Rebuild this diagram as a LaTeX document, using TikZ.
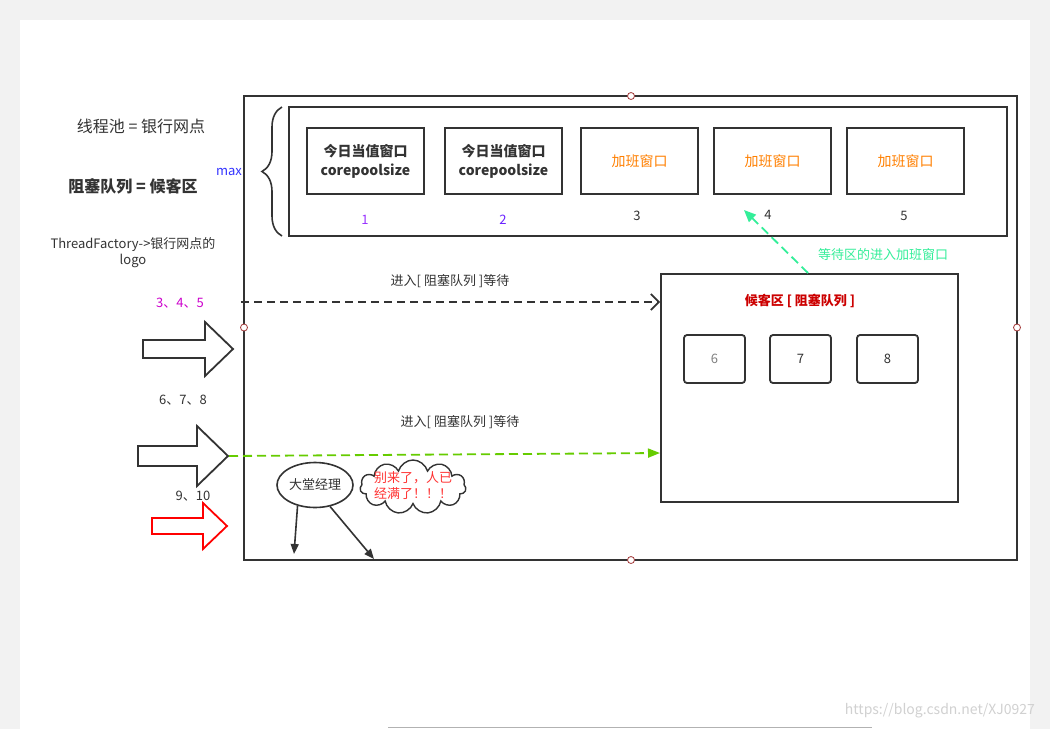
\documentclass[tikz,border=0pt]{standalone}
\usepackage{fontspec}
\setmainfont{Noto Sans CJK SC}
\usetikzlibrary{arrows.meta,shapes.geometric,shapes.symbols,decorations.pathreplacing}
\definecolor{ink}{HTML}{333333}
\definecolor{orng}{HTML}{FF8000}
\definecolor{purp}{HTML}{9933FF}
\definecolor{mag}{HTML}{CC00CC}
\definecolor{lime}{HTML}{66CC00}
\definecolor{mint}{HTML}{33EE99}
\definecolor{redt}{HTML}{CC0000}
\definecolor{handle}{HTML}{A33A3A}
\tikzset{
  frame/.style={draw=ink,line width=1.8pt},
  winbox/.style={draw=ink,line width=1.8pt,minimum width=117pt,minimum height=66pt,inner sep=0pt,align=center},
  qbox/.style={draw=ink,line width=1.8pt,rounded corners=3pt,minimum width=61pt,minimum height=48pt,inner sep=0pt,font=\fontsize{13}{15}\selectfont},
  lbl/.style={text=ink,font=\fontsize{13}{16}\selectfont,inner sep=0pt,align=center},
  hdl/.style={circle,draw=handle,fill=white,line width=0.8pt,minimum size=7pt,inner sep=0pt},
  blockarrow/.style={line width=1.8pt,fill=white,line join=miter},
}
\begin{document}
\begin{tikzpicture}[x=1pt,y=-1pt]
\useasboundingbox (0,0) rectangle (1050,729);
\fill[black!5] (0,0) rectangle (1050,729);
\fill[white] (20,20) rectangle (1030,729);
\draw[black!30,line width=0.8pt] (388,727.5) -- (872,727.5);

% outer frame
\node[frame,minimum width=773pt,minimum height=464pt,inner sep=0pt] (pool) at (630.5,328) {};
% inner window frame
\node[frame,minimum width=718pt,minimum height=129pt,inner sep=0pt] (wins) at (648,171.5) {};

% windows
\node[winbox,font=\bfseries\fontsize{14}{19}\selectfont,text=ink] (w1) at (365.5,161) {今日当值窗口\\corepoolsize};
\node[winbox,font=\bfseries\fontsize{14}{19}\selectfont,text=ink] (w2) at (503.5,161) {今日当值窗口\\corepoolsize};
\node[winbox,font=\fontsize{14}{17}\selectfont,text=orng] (w3) at (639.5,161) {加班窗口};
\node[winbox,font=\fontsize{14}{17}\selectfont,text=orng] (w4) at (772.5,161) {加班窗口};
\node[winbox,font=\fontsize{14}{17}\selectfont,text=orng] (w5) at (905.5,161) {加班窗口};
\node[lbl,text=purp] (n1) at (365,220) {1};
\node[lbl,text=purp!70!blue] (n2) at (503,220) {2};
\node[lbl] (n3) at (637,216) {3};
\node[lbl] (n4) at (768,215) {4};
\node[lbl] (n5) at (904,216) {5};

% brace and max
\draw[ink,line width=1.6pt,decorate,decoration={brace,amplitude=20pt}] (282,236) -- (282,107);
\node[lbl,text=blue!80!white] (max) at (229,172) {max};

% left texts
\node[lbl,font=\fontsize{16}{19}\selectfont] (t1) at (141,126) {线程池 = 银行网点};
\node[lbl,font=\bfseries\fontsize{16}{19}\selectfont] (t2) at (133,186) {阻塞队列 = 候客区};
\node[lbl,font=\fontsize{13}{16}\selectfont] (t3) at (133,253) {ThreadFactory->银行网点的\\logo};

% waiting area
\node[frame,minimum width=297pt,minimum height=228pt,inner sep=0pt] (wait) at (809.5,388) {};
\node[lbl,text=redt,font=\bfseries\fontsize{13}{16}\selectfont] (wt) at (800,301) {候客区 [ 阻塞队列 ]};
\node[qbox,text=gray] (q6) at (714.5,359) {6};
\node[qbox,text=ink] (q7) at (800.5,359) {7};
\node[qbox,text=ink] (q8) at (887.5,359) {8};

% handles
\node[hdl] (h1) at (631,96) {};
\node[hdl] (h2) at (244,327.5) {};
\node[hdl] (h3) at (1017,327.5) {};
\node[hdl] (h4) at (631,560) {};

% group 3,4,5
\node[lbl,text=mag] (g345) at (180,303) {3、4、5};
\draw[blockarrow,draw=ink] (143,340) -- (205,340) -- (205,322) -- (233,349) -- (205,376) -- (205,358) -- (143,358) -- cycle;
\coordinate (s1) at (241,302);
\draw[ink,line width=1.8pt,dash pattern=on 8pt off 5pt,-{Straight Barb[length=8pt,width=16pt,line width=1.8pt]}] (s1) -- (s1 -| wait.west);
\node[lbl] (e1) at (450,281) {进入[ 阻塞队列 ]等待};

% group 6,7,8
\node[lbl] (g678) at (183,400) {6、7、8};
\draw[blockarrow,draw=ink] (138,446) -- (197,446) -- (197,426) -- (228,456) -- (197,486) -- (197,466) -- (138,466) -- cycle;
\coordinate (a2) at (229,456);
\coordinate (a2e) at (660,453);
\draw[lime,line width=1.8pt,dash pattern=on 9pt off 5pt,-{Triangle[length=12pt,width=9pt]}] (a2) -- (a2e);
\node[lbl] (e2) at (460,422) {进入[ 阻塞队列 ]等待};

% group 9,10
\node[lbl] (g910) at (193,496) {9、10};
\draw[blockarrow,draw=red] (152,518) -- (203,518) -- (203,503) -- (227,526) -- (203,549) -- (203,534) -- (152,534) -- cycle;

% manager
\node[ellipse,draw=ink,line width=1.6pt,minimum width=76pt,minimum height=45pt,inner sep=0pt,lbl] (mgr) at (315,485) {大堂经理};
\coordinate (m1) at (294,554);
\coordinate (m2) at (374,559);
\draw[ink,line width=1.6pt,-{Triangle[length=10pt,width=8pt]}] (mgr.230) -- (m1);
\draw[ink,line width=1.6pt,-{Triangle[length=10pt,width=8pt]}] (mgr.305) -- (m2);
\node[cloud,cloud puffs=11,cloud ignores aspect,draw=ink,line width=1.4pt,minimum width=106pt,minimum height=54pt,inner sep=0pt] (cl) at (413,487) {};
\node[lbl,text=red!80!white,align=left] (clt) at (413,486) {别来了，人已\\经满了！！！};

% overtime path
\coordinate (o1) at (808,273);
\coordinate (o2) at (744,210);
\draw[mint,line width=1.8pt,dash pattern=on 9pt off 5pt,-{Triangle[length=12pt,width=10pt]}] (o1) -- (o2);
\node[lbl,text=mint] (ot) at (883,255) {等待区的进入加班窗口};

% watermark
\node[lbl,text=black!18,font=\fontsize{14}{16}\selectfont] (wm) at (940,711) {https://blog.csdn.net/XJ0927};
\end{tikzpicture}
\end{document}
